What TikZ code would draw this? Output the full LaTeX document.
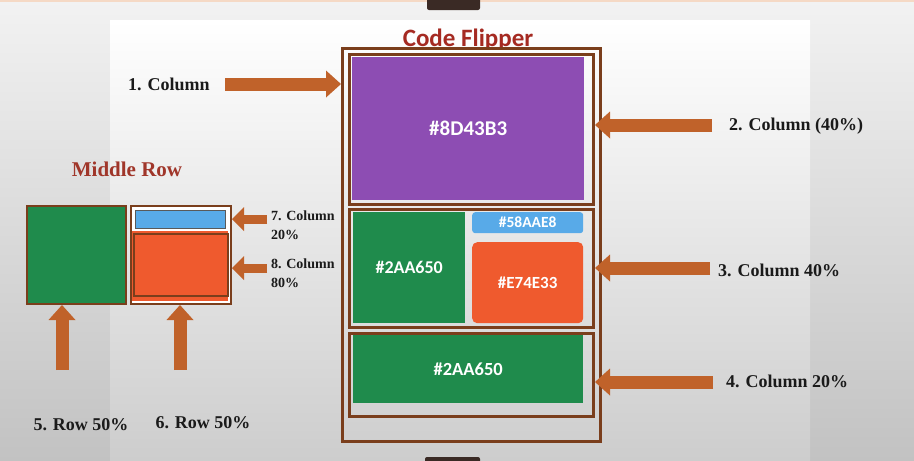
\documentclass[tikz,border=0pt]{standalone}
\usepackage{fontspec}
\setmainfont{Liberation Serif}
\newfontfamily\hexfont{Carlito}
\usetikzlibrary{arrows.meta}
\definecolor{frameC}{HTML}{7A3E1C}
\definecolor{arrowC}{HTML}{C0622A}
\definecolor{purpleC}{HTML}{8D4DB3}
\definecolor{greenC}{HTML}{1F8B4C}
\definecolor{blueC}{HTML}{58AAE8}
\definecolor{orangeC}{HTML}{EF5A2E}
\definecolor{titleC}{HTML}{A52A22}
\definecolor{midrowC}{HTML}{A0362A}
\definecolor{labelC}{HTML}{1A1A1A}
\definecolor{peachC}{HTML}{F5D9C5}
\definecolor{tabC}{HTML}{3A2A25}
\definecolor{bgbot}{HTML}{C2C2C2}
\definecolor{bgtop}{HTML}{F2F2F2}
\definecolor{bgmid}{HTML}{CDCDCD}
\tikzset{
  frame/.style={draw=frameC, line width=3pt, fill=none, inner sep=0pt, anchor=north west},
  colbox/.style={draw=none, inner sep=0pt, anchor=north west, text=white, font=\hexfont\bfseries},
  lbl/.style={text=labelC, font=\bfseries, inner sep=0pt},
  biglbl/.style={lbl, font=\bfseries\fontsize{18}{21}\selectfont},
  bigarrow/.style={draw=arrowC, line width=13pt, -{Triangle[width=27pt,length=15pt,line width=0pt]}},
  smallarrow/.style={draw=arrowC, line width=9pt, -{Triangle[width=24pt,length=12pt,line width=0pt]}},
}
\begin{document}
\begin{tikzpicture}[x=1pt,y=-1pt]
\useasboundingbox (0,0) rectangle (914,461);
% background
\shade[top color=bgtop, bottom color=bgbot] (0,0) rectangle (914,461);
\shade[top color=white, middle color=white, bottom color=bgmid] (110,20) rectangle (810,461);
\fill[peachC] (0,0) rectangle (914,2);
\fill[tabC, rounded corners=2pt] (427,-4) rectangle (480,10);
\fill[tabC, rounded corners=2pt] (425,457) rectangle (480,466);

% title
\node[text=titleC, font=\hexfont\bfseries\fontsize{25}{28}\selectfont, anchor=base, inner sep=0pt] (title) at (468,46) {Code Flipper};

% main frame
\node[frame, minimum width=258pt, minimum height=393pt] (outer) at (341,47) {};
\node[frame, minimum width=244pt, minimum height=150pt] (box1) at (348,53) {};
\node[colbox, fill=purpleC, minimum width=232pt, minimum height=143pt, font=\hexfont\bfseries\fontsize{21}{24}\selectfont] (purple) at (352,57) {\#8D43B3};

\node[frame, minimum width=244pt, minimum height=118pt] (box2) at (348,208) {};
\node[colbox, fill=greenC, minimum width=112pt, minimum height=111pt, font=\hexfont\bfseries\fontsize{18}{21}\selectfont] (green1) at (353,212) {\#2AA650};
\node[colbox, fill=blueC, rounded corners=3pt, minimum width=111pt, minimum height=21pt, font=\hexfont\bfseries\fontsize{15.5}{18}\selectfont] (blue) at (472,212) {\#58AAE8};
\node[colbox, fill=orangeC, rounded corners=5pt, minimum width=111pt, minimum height=81pt, font=\hexfont\bfseries\fontsize{17}{20}\selectfont] (orange) at (472,242) {\#E74E33};

\node[frame, minimum width=244pt, minimum height=83pt] (box3) at (348,332) {};
\node[colbox, fill=greenC, minimum width=230pt, minimum height=68pt, font=\hexfont\bfseries\fontsize{18.5}{21}\selectfont] (green2) at (353,335) {\#2AA650};

% right-side labels and arrows
\node[biglbl, anchor=west] (l1) at (128,84) {1. Column};
\node[biglbl, anchor=west] (l2) at (729,126) {2. Column (40\%)};
\node[biglbl, anchor=west] (l3) at (718,270) {3. Column 40\%};
\node[biglbl, anchor=west] (l4) at (726,381) {4. Column 20\%};

\coordinate (t1) at (225,84);
\coordinate (t2) at (712,125);
\coordinate (t3) at (710,268);
\coordinate (t4) at (713,382);
\draw[bigarrow] (t1) -- (t1 -| outer.west);
\draw[bigarrow] (t2) -- (t2 -| box1.east);
\draw[bigarrow] (t3) -- (t3 -| box2.east);
\draw[bigarrow] (t4) -- (t4 -| box3.east);

% middle row illustration
\node[text=midrowC, font=\bfseries\fontsize{21}{24}\selectfont, inner sep=0pt] (midrow) at (127,169) {Middle Row};
\node[frame, line width=2pt, fill=greenC, minimum width=99pt, minimum height=98pt] (lgreen) at (26,205) {};
\node[frame, line width=2pt, fill=white, minimum width=100pt, minimum height=98pt] (lright) at (130,205) {};
\fill[orangeC] (132,231) rectangle (228,301);
\node[frame, line width=1.5pt, minimum width=94pt, minimum height=62pt] (lorange) at (133,233) {};
\node[draw=gray!70!black, line width=1pt, fill=blueC, inner sep=0pt, anchor=north west, minimum width=90pt, minimum height=18pt] (lblue) at (135,210) {};

\node[lbl, anchor=north west, align=left, font=\bfseries\fontsize{14}{19}\selectfont] (l7) at (271,211) {7. Column\\20\%};
\node[lbl, anchor=north west, align=left, font=\bfseries\fontsize{14}{19}\selectfont] (l8) at (271,259) {8. Column\\80\%};
\coordinate (t7) at (267,219);
\coordinate (t8) at (267,268);
\draw[smallarrow] (t7) -- (t7 -| lright.east);
\draw[smallarrow] (t8) -- (t8 -| lright.east);

\coordinate (t5) at (62,370);
\coordinate (t6) at (180,370);
\draw[bigarrow] (t5) -- (t5 |- lgreen.south);
\draw[bigarrow] (t6) -- (t6 |- lright.south);
\node[biglbl] (l5) at (81,425) {5. Row 50\%};
\node[biglbl] (l6) at (203,423) {6. Row 50\%};
\end{tikzpicture}
\end{document}
